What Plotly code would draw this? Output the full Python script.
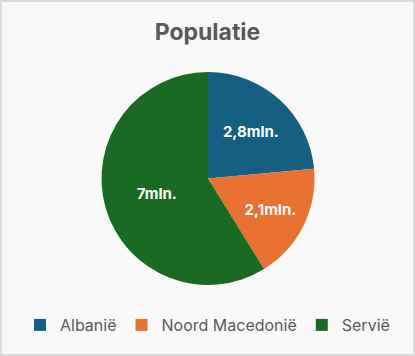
import plotly.graph_objects as go

labels = ["Albanië", "Noord Macedonië", "Servië"]
values = [2.8, 2.1, 7]
text_labels = ["2,8mln.", "2,1mln.", "7mln."]
colors = ["#156082", "#E97132", "#196B24"]

W, H = 415, 356
fig = go.Figure(go.Pie(
    labels=labels, values=values, text=text_labels,
    textinfo="text", sort=False, direction="clockwise", rotation=0,
    marker=dict(colors=colors, line=dict(width=0)),
    insidetextorientation="horizontal",
    textfont=dict(color="white", size=15, family="Inter"),
    texttemplate="<b>%{text}</b>",
    hoverinfo="label+value",
    domain=dict(x=[101/W, 315/W], y=[1-285/H, 1-72/H]),
))
fig.update_layout(
    width=W, height=H,
    margin=dict(l=0, r=0, t=0, b=0),
    paper_bgcolor="#F9F9F9",
    title=dict(text="<b>Populatie</b>", x=0.5, xanchor="center", y=1-32/H, yanchor="middle",
               font=dict(size=23, color="#595959", family="Inter")),
    showlegend=True,
    legend=dict(orientation="h", x=0.5, xanchor="center", y=1-325/H, yanchor="middle",
                font=dict(size=16, color="#595959", family="Inter"), itemwidth=30,
                bgcolor="rgba(0,0,0,0)"),
    shapes=[dict(type="rect", xref="paper", yref="paper", x0=0.002, x1=0.998, y0=0.003, y1=0.997,
                 line=dict(color="#D9D9D9", width=2))],
)
fig.write_html("out.html", config={"displayModeBar": False},
               post_script="document.body.style.margin='0';document.body.style.overflow='hidden';")
